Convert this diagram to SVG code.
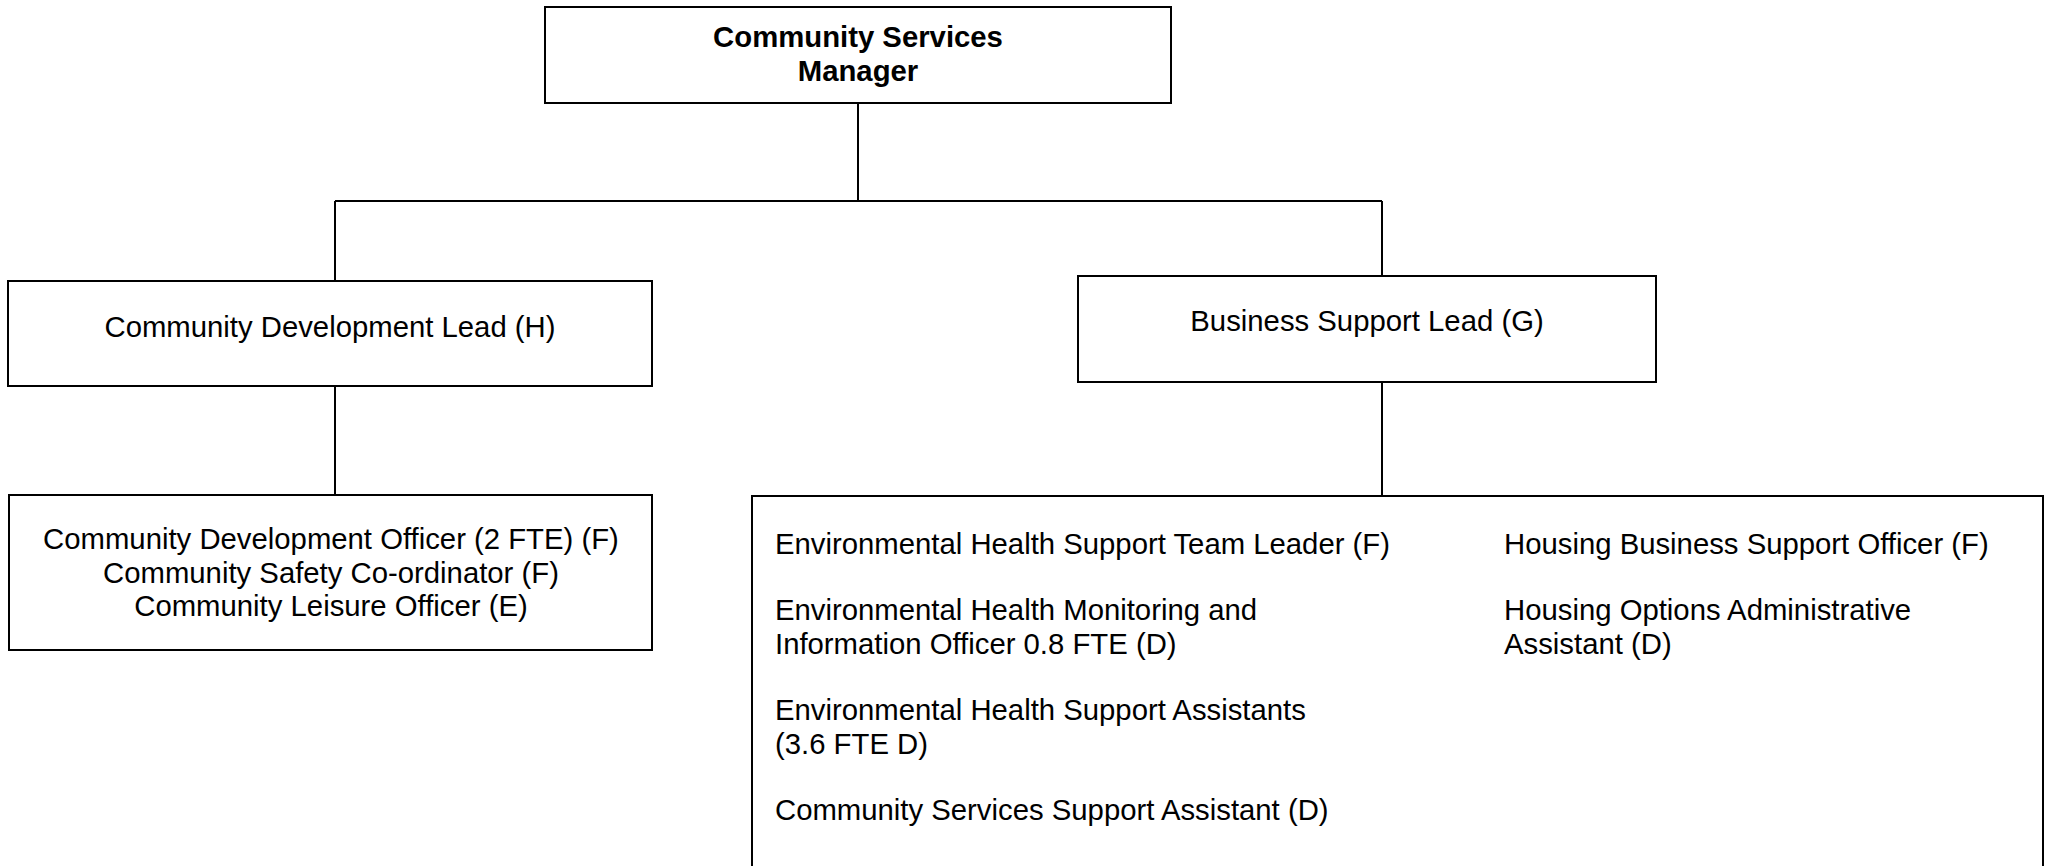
<svg xmlns="http://www.w3.org/2000/svg" width="2049" height="866" viewBox="0 0 2049 866">
<style>
.box{fill:#fff;stroke:#000;stroke-width:2}
.ln{fill:none;stroke:#000;stroke-width:2}
text{font-family:"Liberation Sans",Arial,sans-serif;font-size:29.3px;fill:#000}
.b{font-weight:bold}
.c{text-anchor:middle}
</style>
<rect width="2049" height="866" fill="#fff"/>
<g id="connectors">
<path class="ln" d="M858 103V201M335 201H1382M335 201V281M1382 201V276M335 386V495M1382 382V496"/>
</g>
<g id="manager">
<rect class="box" x="545" y="7" width="626" height="96"/>
<text class="b c" x="858" y="47">Community Services</text>
<text class="b c" x="858" y="80.5">Manager</text>
</g>
<g id="cdl">
<rect class="box" x="8" y="281" width="644" height="105"/>
<text class="c" x="330" y="337">Community Development Lead (H)</text>
</g>
<g id="bsl">
<rect class="box" x="1078" y="276" width="578" height="106"/>
<text class="c" x="1367" y="331">Business Support Lead (G)</text>
</g>
<g id="cd-team">
<rect class="box" x="9" y="495" width="643" height="155"/>
<text class="c" x="331" y="549">Community Development Officer (2 FTE) (F)</text>
<text class="c" x="331" y="582.5">Community Safety Co-ordinator (F)</text>
<text class="c" x="331" y="616">Community Leisure Officer (E)</text>
</g>
<g id="bs-team">
<rect class="box" x="752" y="496" width="1291" height="380"/>
<text x="775" y="554">Environmental Health Support Team Leader (F)</text>
<text x="775" y="620">Environmental Health Monitoring and</text>
<text x="775" y="654">Information Officer 0.8 FTE (D)</text>
<text x="775" y="720">Environmental Health Support Assistants</text>
<text x="775" y="754">(3.6 FTE D)</text>
<text x="775" y="820">Community Services Support Assistant (D)</text>
<text x="1504" y="554">Housing Business Support Officer (F)</text>
<text x="1504" y="620">Housing Options Administrative</text>
<text x="1504" y="654">Assistant (D)</text>
</g>
</svg>
